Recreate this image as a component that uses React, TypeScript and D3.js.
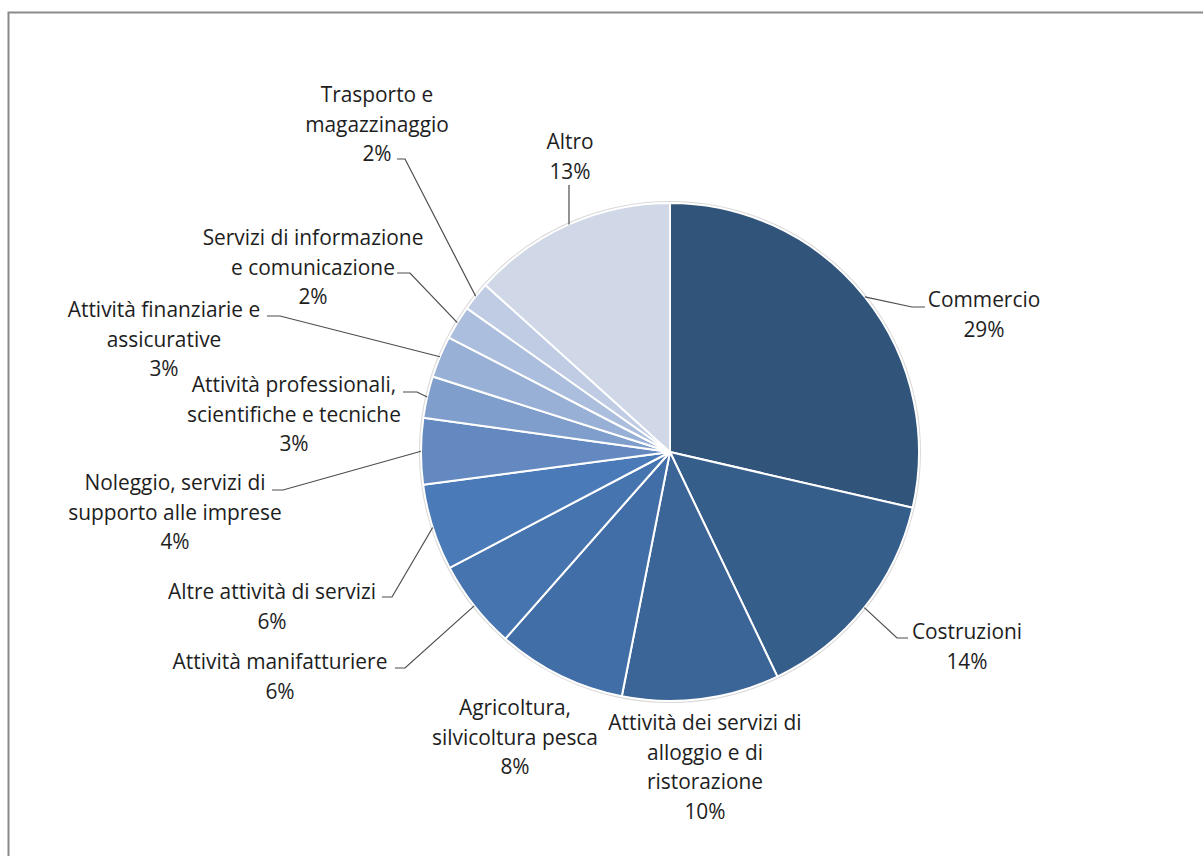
import React from "react";
import * as d3 from "d3";

const categories = [
  "Commercio",
  "Costruzioni",
  "Attività dei servizi di alloggio e di ristorazione",
  "Agricoltura, silvicoltura pesca",
  "Attività manifatturiere",
  "Altre attività di servizi",
  "Noleggio, servizi di supporto alle imprese",
  "Attività professionali, scientifiche e tecniche",
  "Attività finanziarie e assicurative",
  "Servizi di informazione e comunicazione",
  "Trasporto e magazzinaggio",
  "Altro",
];

const values = [28.6, 14.3, 10.2, 8.4, 5.8, 5.6, 4.3, 2.7, 2.7, 2.2, 1.9, 13.3];

const labelLines = [
  ["Commercio"],
  ["Costruzioni"],
  ["Attività dei servizi di", "alloggio e di", "ristorazione"],
  ["Agricoltura,", "silvicoltura pesca"],
  ["Attività manifatturiere"],
  ["Altre attività di servizi"],
  ["Noleggio, servizi di", "supporto alle imprese"],
  ["Attività professionali,", "scientifiche e tecniche"],
  ["Attività finanziarie e", "assicurative"],
  ["Servizi di informazione", "e comunicazione"],
  ["Trasporto e", "magazzinaggio"],
  ["Altro"],
];

const colors = [
  "#31547B",
  "#365E8B",
  "#3B6597",
  "#416EA6",
  "#4574AF",
  "#4A7BB8",
  "#6489C1",
  "#7F9ECC",
  "#98B0D5",
  "#ACBEDD",
  "#BFCCE4",
  "#D0D8E8",
];

// label layout: text center x, first-line center y, leader elbow points
const labelLayout: { x: number; y: number; leader: [number, number][] }[] = [
  { x: 984, y: 300, leader: [[912, 307], [925, 307]] },
  { x: 967, y: 632, leader: [[897, 638], [908, 638]] },
  { x: 705, y: 723, leader: [] },
  { x: 515, y: 708, leader: [] },
  { x: 280, y: 662, leader: [[405, 668], [395, 668]] },
  { x: 272, y: 592, leader: [[392, 597], [382, 597]] },
  { x: 175, y: 483, leader: [[283, 490], [272, 490]] },
  { x: 294, y: 385, leader: [[417, 392], [403, 392]] },
  { x: 164, y: 310, leader: [[280, 316], [267, 316]] },
  { x: 313, y: 238, leader: [[410, 273], [397, 273]] },
  { x: 377, y: 95, leader: [[405, 159], [397, 159]] },
  { x: 570, y: 142, leader: [[569, 185]] },
];

const W = 1203;
const H = 856;
const cx = 670;
const cy = 452;
const R = 249;
const lineH = 29.5;

export default function App() {
  const data = categories.map((c, i) => ({ c, v: values[i], i }));
  const pie = d3
    .pie<{ c: string; v: number; i: number }>()
    .sort(null)
    .value((d) => d.v)
    .startAngle(0)
    .endAngle(2 * Math.PI);
  const arcs = pie(data);
  const arc = d3
    .arc<d3.PieArcDatum<{ c: string; v: number; i: number }>>()
    .innerRadius(0)
    .outerRadius(R);
  const total = d3.sum(values);

  return (
    <svg
      width={W}
      height={H}
      style={{ position: "absolute", left: 0, top: 0, background: "#fff" }}
      fontFamily="'Open Sans', sans-serif"
    >
      <path d={`M8.5,${H} V12.5 H${W}`} fill="none" stroke="#8a8a8a" strokeWidth={2} />
      <g transform={`translate(${cx},${cy})`}>
        <circle r={R + 1} fill="none" stroke="#d9d9d9" strokeWidth={2} />
        {arcs.map((a, i) => (
          <path key={i} d={arc(a) || ""} fill={colors[i]} stroke="#fff" strokeWidth={2} strokeLinejoin="round" />
        ))}
      </g>
      {arcs.map((a, i) => {
        const lay = labelLayout[i];
        const mid = (a.startAngle + a.endAngle) / 2;
        const ex = cx + R * Math.sin(mid);
        const ey = cy - R * Math.cos(mid);
        const pts: [number, number][] = [[ex, ey], ...lay.leader];
        const pct = Math.round((values[i] / total) * 100) + "%";
        const lines = [...labelLines[i], pct];
        return (
          <g key={i}>
            {lay.leader.length > 0 && (
              <path
                d={d3.line()(pts) || ""}
                fill="none"
                stroke="#4d4d4d"
                strokeWidth={1.2}
              />
            )}
            <text
              x={lay.x}
              y={lay.y}
              textAnchor="middle"
              fontSize={20.9}
              fill="#1e1e1e"
            >
              {lines.map((l, k) => (
                <tspan key={k} x={lay.x} y={lay.y + k * lineH + 7}>
                  {l}
                </tspan>
              ))}
            </text>
          </g>
        );
      })}
    </svg>
  );
}
